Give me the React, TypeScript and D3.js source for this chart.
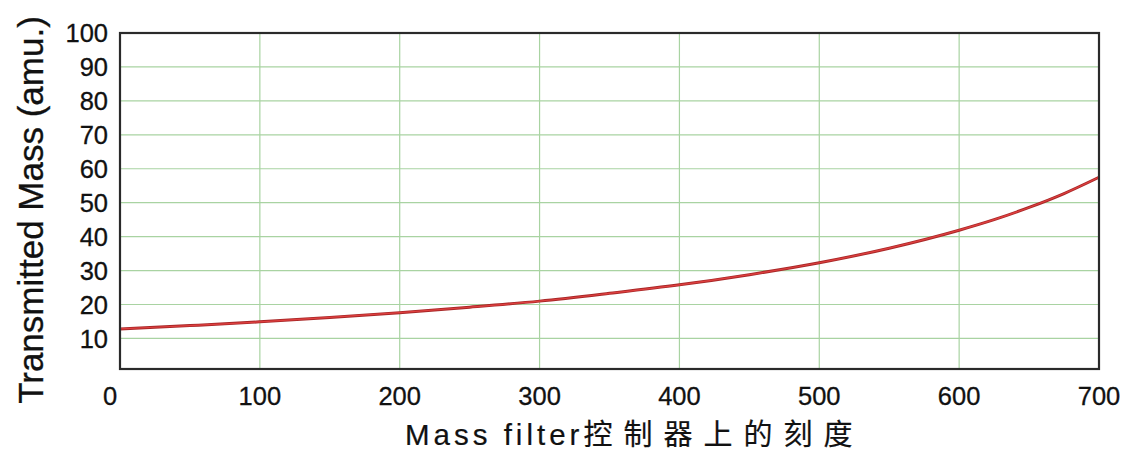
import React from "react";
import * as d3 from "d3";

const massFilter = [0, 25, 50, 75, 100, 150, 200, 250, 300, 350, 400, 450, 500, 550, 600, 625, 650, 675, 700];
const transmitted = [12.8, 13.3, 13.8, 14.3, 14.9, 16.2, 17.6, 19.2, 21.0, 23.3, 25.8, 28.8, 32.3, 36.6, 41.9, 45.0, 48.6, 52.7, 57.5];
const xTicks = [0, 100, 200, 300, 400, 500, 600, 700];
const yTicks = [10, 20, 30, 40, 50, 60, 70, 80, 90, 100];

const W = 1127;
const H = 457;
const M = { left: 120, right: 1099, top: 33, bottom: 369 };

export default function App() {
  const x = d3.scaleLinear().domain([0, 700]).range([M.left, M.right]);
  const y = d3.scaleLinear().domain([1, 100]).range([M.bottom, M.top]);
  const pts: [number, number][] = massFilter.map((d, i) => [d, transmitted[i]]);
  const line = d3
    .line<[number, number]>()
    .x((d) => x(d[0]))
    .y((d) => y(d[1]))
    .curve(d3.curveMonotoneX);
  const font = "'Liberation Sans', Arial, sans-serif";
  return (
    <svg
      width={W}
      height={H}
      style={{ position: "absolute", left: 0, top: 0, background: "#fff" }}
    >
      <rect x={0} y={0} width={W} height={H} fill="#fff" />
      {yTicks
        .filter((t) => t < 100)
        .map((t) => (
          <line key={"gy" + t} x1={M.left} x2={M.right} y1={y(t)} y2={y(t)} stroke="#a9d3a2" strokeWidth={1.2} />
        ))}
      {xTicks
        .filter((t) => t > 0 && t < 700)
        .map((t) => (
          <line key={"gx" + t} x1={x(t)} x2={x(t)} y1={M.top} y2={M.bottom} stroke="#a9d3a2" strokeWidth={1.2} />
        ))}
      <path d={line(pts) || ""} fill="none" stroke="#a82828" strokeWidth={3} strokeLinejoin="round" />
      <path d={line(pts) || ""} fill="none" stroke="#e04040" strokeWidth={1.2} strokeLinejoin="round" />
      <rect
        x={M.left}
        y={M.top}
        width={M.right - M.left}
        height={M.bottom - M.top}
        fill="none"
        stroke="#2a2a2a"
        strokeWidth={2.2}
      />
      {yTicks.map((t) => (
        <text
          key={"ty" + t}
          x={108}
          y={y(t)}
          dy="0.36em"
          textAnchor="end"
          fontFamily={font}
          fontSize={25.5}
          fill="#111"
          stroke="#111"
          strokeWidth={0.3}
        >
          {t}
        </text>
      ))}
      {xTicks.map((t) => (
        <text
          key={"tx" + t}
          x={t === 0 ? x(t) - 10 : x(t)}
          y={405}
          textAnchor="middle"
          fontFamily={font}
          fontSize={25.5}
          fill="#111"
          stroke="#111"
          strokeWidth={0.3}
        >
          {t}
        </text>
      ))}
      <text
        transform={`translate(43,210) rotate(-90)`}
        textAnchor="middle"
        fontFamily={font}
        fontSize={35}
        fill="#111"
        stroke="#111"
        strokeWidth={0.3}
      >
        Transmitted Mass (amu.)
      </text>
      <text x={405} y={445} fontFamily={font} fontSize={29.5} fill="#111" stroke="#111" strokeWidth={0.2}>
        <tspan letterSpacing={4}>Mass filter</tspan>
        <tspan fontFamily="'Noto Sans CJK SC', sans-serif" fontSize={29} letterSpacing={11}>
          控制器上的刻度
        </tspan>
      </text>
    </svg>
  );
}
